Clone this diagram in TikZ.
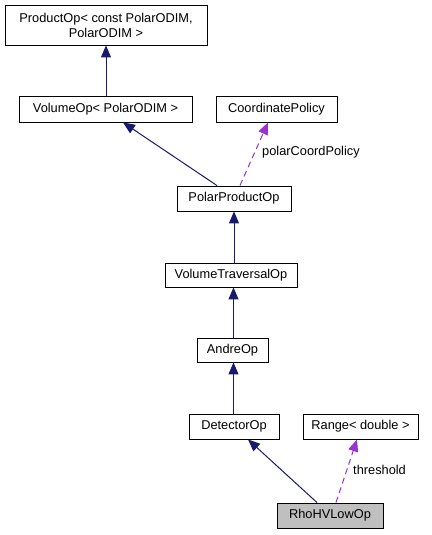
\documentclass[tikz,border=0pt]{standalone}
\usepackage{fontspec}
\setmainfont{Liberation Sans}
\usetikzlibrary{arrows.meta}
\definecolor{edgeblue}{HTML}{191970}
\definecolor{edgepurple}{HTML}{9A32CD}
\definecolor{boxgray}{HTML}{BFBFBF}
\tikzset{
  cls/.style={draw=black, line width=0.9pt, fill=white, rectangle, inner sep=0pt,
    font=\fontsize{12.8}{15}\selectfont, align=center},
  inh/.style={draw=edgeblue, line width=1pt, -{Triangle[length=12pt,width=10pt]}},
  usage/.style={draw=edgepurple, line width=1pt, dash pattern=on 6pt off 4pt, -{Triangle[length=12pt,width=10pt]}},
  lbl/.style={font=\fontsize{12.8}{15}\selectfont, anchor=west, inner sep=0pt}
}
\begin{document}
\begin{tikzpicture}[x=1pt,y=-1pt]
\useasboundingbox (0,0) rectangle (431,535);
\fill[white] (0,0) rectangle (431,535);
\node[cls, minimum width=202pt, minimum height=40pt] (prod) at (106,25) {ProductOp< const PolarODIM,\\PolarODIM >};
\node[cls, minimum width=173pt, minimum height=26pt] (vol) at (105.5,109) {VolumeOp< PolarODIM >};
\node[cls, minimum width=121pt, minimum height=26pt] (cp) at (276.5,109) {CoordinatePolicy};
\node[cls, minimum width=114pt, minimum height=25pt] (ppo) at (234,198.5) {PolarProductOp};
\node[cls, minimum width=132pt, minimum height=24pt] (vto) at (231,275) {VolumeTraversalOp};
\node[cls, minimum width=71pt, minimum height=24pt] (andre) at (232.5,350) {AndreOp};
\node[cls, minimum width=90pt, minimum height=25pt] (det) at (234,426.5) {DetectorOp};
\node[cls, minimum width=115pt, minimum height=25pt] (range) at (360.5,426.5) {Range< double >};
\node[cls, fill=boxgray, minimum width=106pt, minimum height=25pt] (rho) at (330,515.5) {RhoHVLowOp};

\draw[inh] (vol.north -| prod.south) -- (prod.south);
\draw[inh] ([xshift=-17pt]ppo.north) -- ([xshift=17.5pt]vol.south);
\draw[usage] ([xshift=6pt]ppo.north) -- ([xshift=-8.5pt]cp.south);
\node[lbl] (l1) at (262,152) {polarCoordPolicy};
\draw[inh] (vto.north -| ppo.south) -- (ppo.south);
\draw[inh] ([xshift=1pt]andre.north) -- ([xshift=2.5pt]vto.south);
\draw[inh] ([xshift=-0.5pt]det.north) -- ([xshift=1pt]andre.south);
\draw[inh] ([xshift=-13pt]rho.north) -- ([xshift=14pt]det.south);
\draw[usage] ([xshift=6pt]rho.north) -- ([xshift=-3.5pt]range.south);
\node[lbl] (l2) at (353,470) {threshold};
\end{tikzpicture}
\end{document}
